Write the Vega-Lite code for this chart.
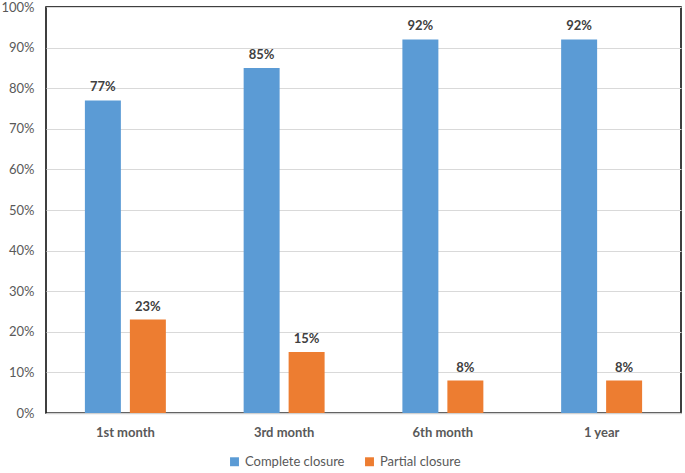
{
  "$schema": "https://vega.github.io/schema/vega-lite/v6.json",
  "width": 635,
  "height": 406,
  "autosize": {"type": "none"},
  "padding": {"left": 46, "top": 7, "right": 4, "bottom": 60},
  "background": "white",
  "config": {
    "font": "Lato",
    "view": {"stroke": "#000000", "strokeWidth": 1.5}
  },
  "data": {
    "values": [
      {"period": "1st month", "type": "Complete closure", "value": 0.77},
      {"period": "1st month", "type": "Partial closure", "value": 0.23},
      {"period": "3rd month", "type": "Complete closure", "value": 0.85},
      {"period": "3rd month", "type": "Partial closure", "value": 0.15},
      {"period": "6th month", "type": "Complete closure", "value": 0.92},
      {"period": "6th month", "type": "Partial closure", "value": 0.08},
      {"period": "1 year", "type": "Complete closure", "value": 0.92},
      {"period": "1 year", "type": "Partial closure", "value": 0.08}
    ]
  },
  "encoding": {
    "x": {
      "field": "period", "type": "nominal", "sort": null,
      "scale": {"paddingInner": 0.49, "paddingOuter": 0.245},
      "axis": {"title": null, "labelAngle": 0, "labelFontSize": 13, "labelFontWeight": "bold", "labelColor": "#595959", "ticks": false, "domainColor": "#d0d0d0", "domainWidth": 1.5, "labelPadding": 13}
    },
    "xOffset": {"field": "type", "type": "nominal", "scale": {"paddingInner": 0.2}},
    "y": {
      "field": "value", "type": "quantitative",
      "scale": {"domain": [0, 1]},
      "axis": {"title": null, "format": ".0%", "values": [0,0.1,0.2,0.3,0.4,0.5,0.6,0.7,0.8,0.9,1], "labelFontSize": 13, "labelColor": "#595959", "ticks": false, "domain": false, "gridColor": "#d9d9d9", "labelPadding": 12}
    }
  },
  "layer": [
    {
      "mark": {"type": "bar"},
      "encoding": {
        "color": {
          "field": "type", "type": "nominal",
          "scale": {"domain": ["Complete closure", "Partial closure"], "range": ["#5b9bd5", "#ed7d31"]},
          "legend": {"title": null, "orient": "none", "legendX": 182, "legendY": 448, "direction": "horizontal", "symbolType": "square", "symbolSize": 80, "labelFontSize": 13, "labelColor": "#595959", "columnPadding": 18, "symbolStrokeWidth": 0, "symbolOpacity": 1}
        }
      }
    },
    {
      "mark": {"type": "text", "dy": -13, "fontWeight": "bold", "fontSize": 13, "color": "#404040"},
      "encoding": {
        "text": {"field": "value", "type": "quantitative", "format": ".0%"}
      }
    }
  ]
}
